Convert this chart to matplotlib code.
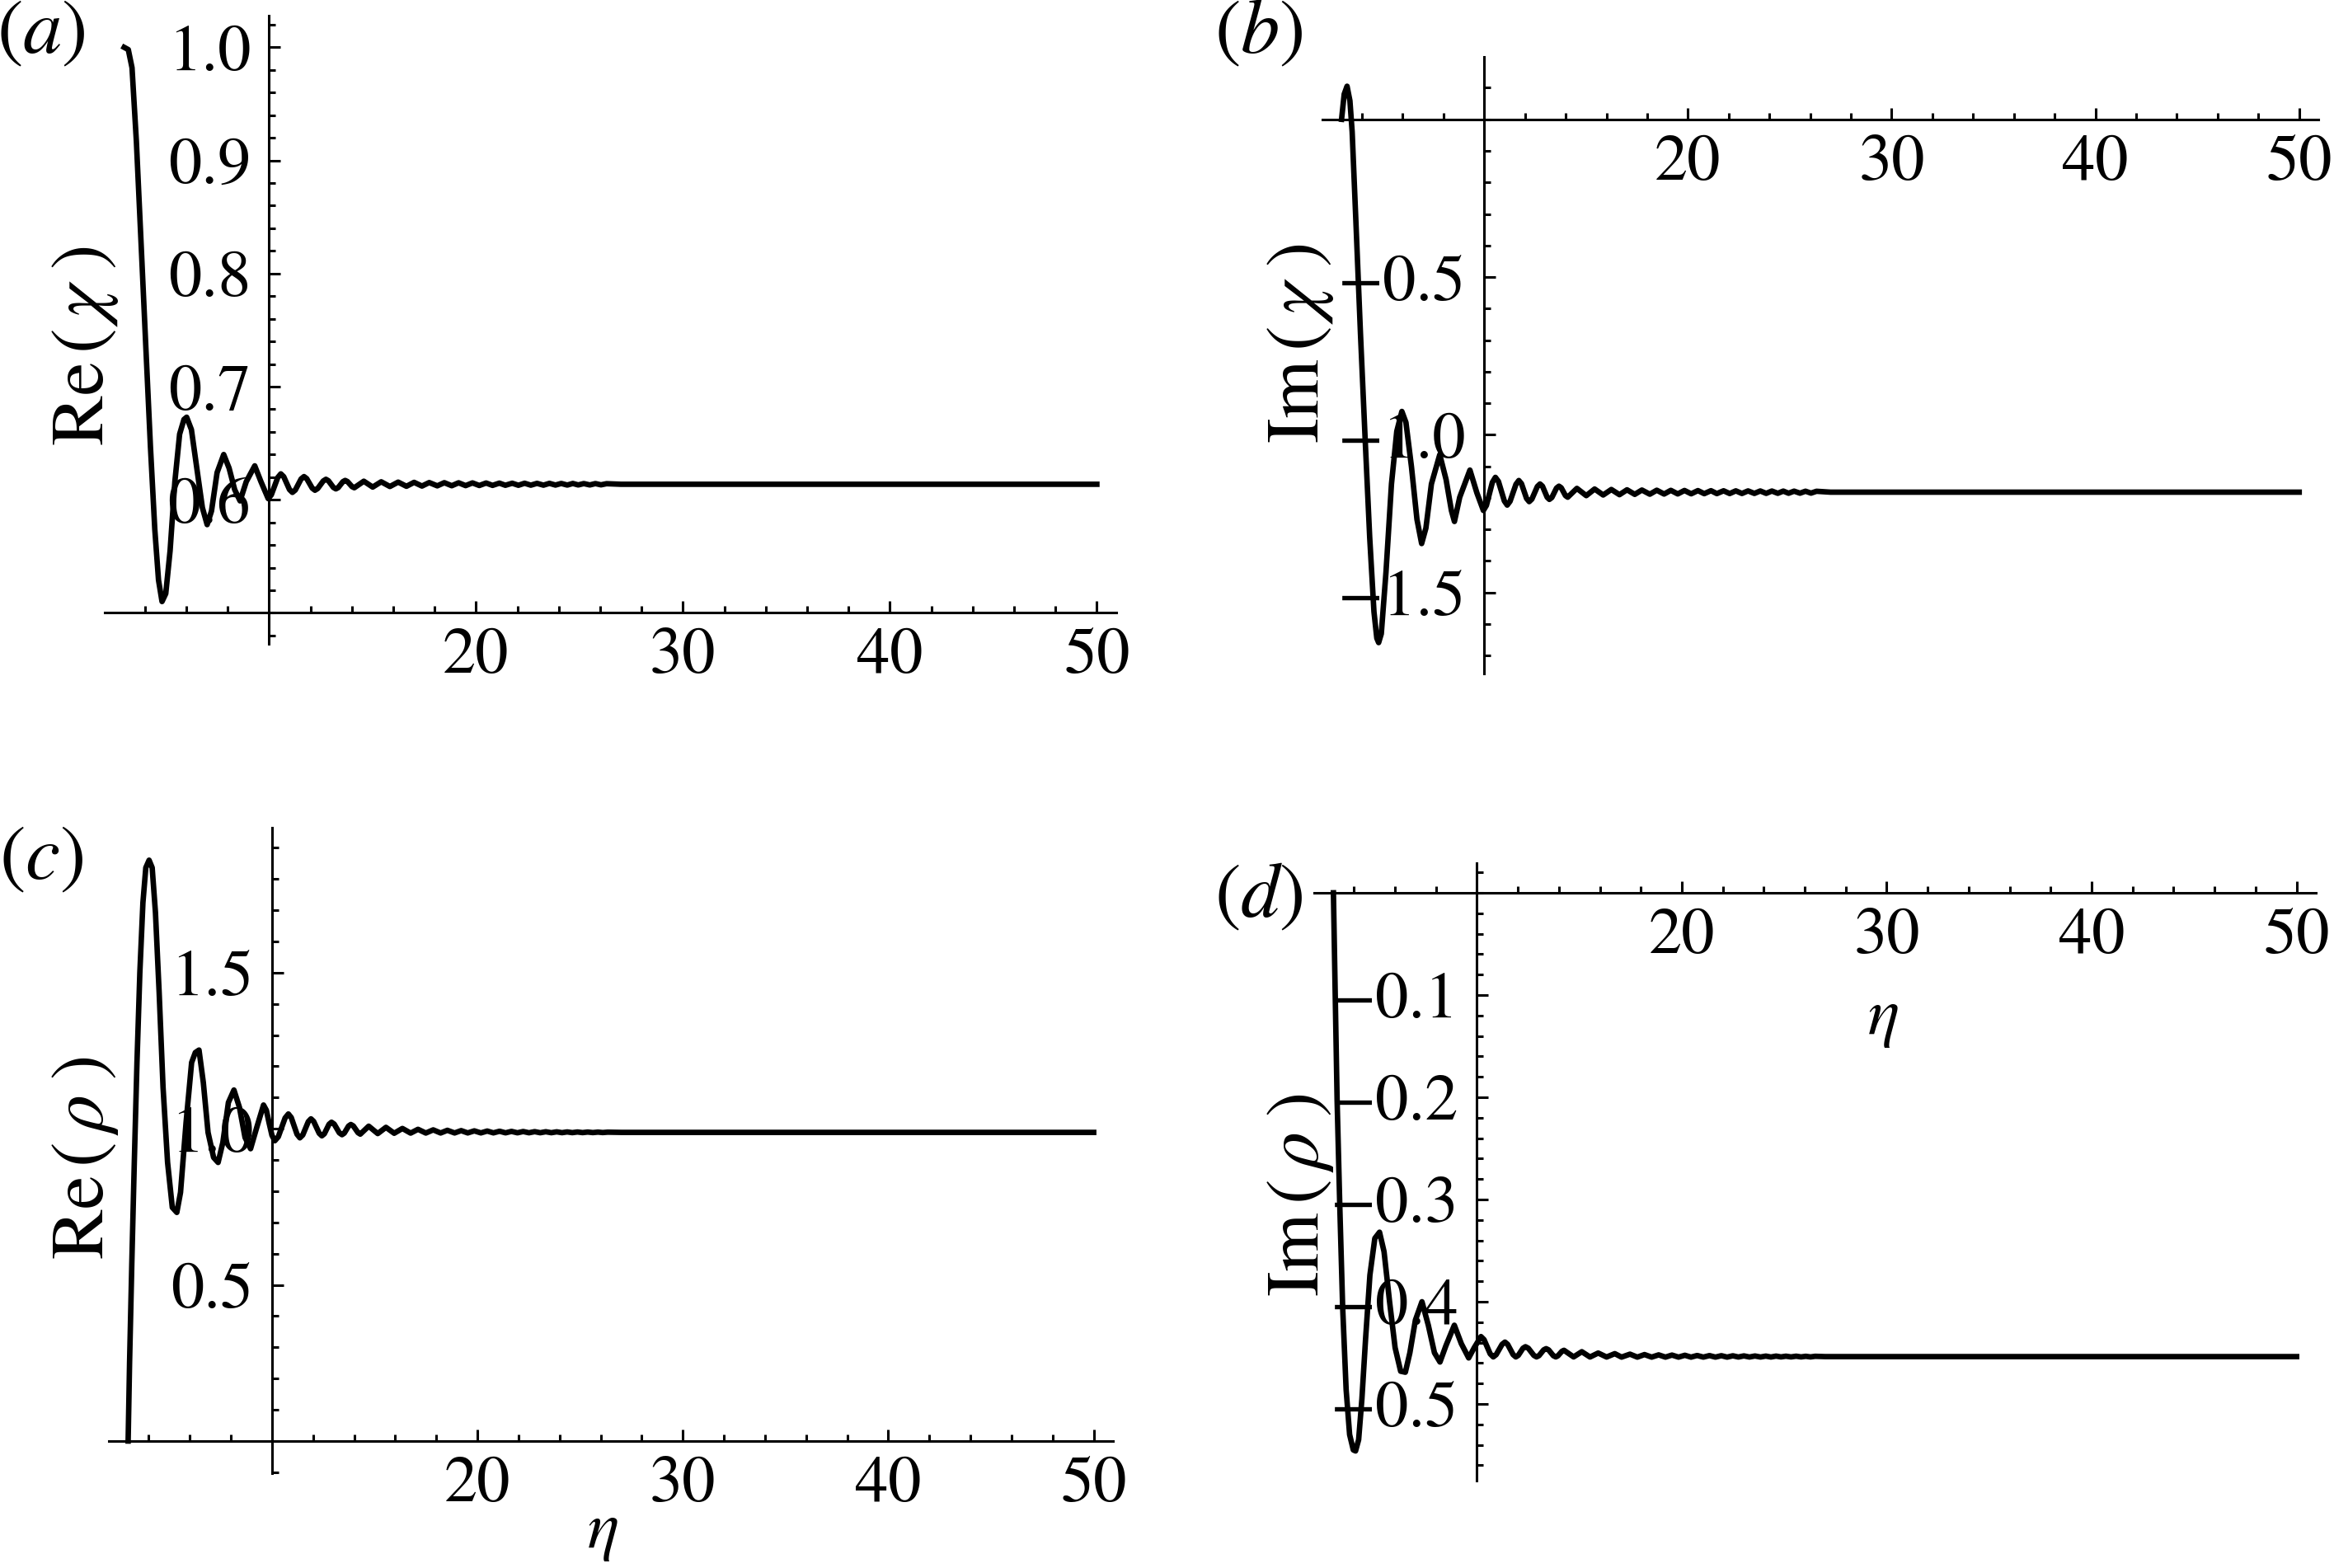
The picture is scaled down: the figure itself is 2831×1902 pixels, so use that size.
import numpy as np
import matplotlib.pyplot as plt
from matplotlib.ticker import FixedLocator, FuncFormatter

plt.rcParams['font.family'] = 'STIXGeneral'
plt.rcParams['mathtext.fontset'] = 'stix'

# ---- data (eta, value) ----
eta_a = [3.0, 3.2, 3.38, 3.59, 3.81, 4.04, 4.27, 4.48, 4.66, 4.83, 5.01, 5.22, 5.45, 5.68, 5.89, 6.02,
         6.25, 6.51, 6.78, 7.01, 7.22, 7.49, 7.81, 8.07, 8.34, 8.6, 8.9, 9.31, 9.61, 9.96,
         10.11, 10.42, 10.57, 10.71, 10.99, 11.13, 11.27, 11.55, 11.69, 11.82, 12.09, 12.22, 12.35,
         12.62, 12.75, 12.87, 13.11, 13.23, 13.34, 13.57, 13.68, 13.79, 14.01, 14.12, 14.58, 15.01,
         15.42, 15.84, 16.24, 16.64, 17.01, 17.39, 17.74, 18.13, 18.47, 18.83, 19.16, 19.5, 19.83,
         20.16, 20.49, 20.8, 21.13, 21.42, 21.75, 22.05, 22.35, 22.65, 22.95, 23.26, 23.55, 23.84,
         24.12, 24.41, 24.68, 24.94, 25.21, 25.5, 25.77, 26.04, 26.31, 27.0, 50.0]
re_chi = [1.0, 0.998, 0.982, 0.917, 0.83, 0.738, 0.647, 0.574, 0.529, 0.51, 0.517, 0.555, 0.616, 0.658,
          0.671, 0.673, 0.662, 0.628, 0.593, 0.578, 0.59, 0.624, 0.64, 0.628, 0.609, 0.599, 0.616,
          0.63, 0.616, 0.601,
          0.6043, 0.6196, 0.6229, 0.6204, 0.609, 0.6065, 0.6086, 0.6184, 0.6205, 0.6187, 0.6102,
          0.6084, 0.6099, 0.6166, 0.6181, 0.6168, 0.6109, 0.6096, 0.6107, 0.616, 0.6171, 0.6161,
          0.6116, 0.6106, 0.6164, 0.6112, 0.6159, 0.6117, 0.6156, 0.6119, 0.6154, 0.6121, 0.6152,
          0.6123, 0.6151, 0.6124, 0.615, 0.6125, 0.6149, 0.6126, 0.6148, 0.6127, 0.6147, 0.6128,
          0.6146, 0.6128, 0.6146, 0.6129, 0.6145, 0.6129, 0.6145, 0.613, 0.6144, 0.613, 0.6144,
          0.6131, 0.6143, 0.6131, 0.6143, 0.6132, 0.6142, 0.6137, 0.6137]

eta_b = [3.0, 3.13, 3.27, 3.41, 3.52, 3.7, 3.93, 4.16, 4.38, 4.59, 4.73, 4.82, 4.95, 5.18, 5.45, 5.71,
         5.96, 6.16, 6.43, 6.7, 6.93, 7.14, 7.41, 7.82, 8.13, 8.39, 8.54, 8.8, 9.3, 9.64, 9.96,
         10.11, 10.4, 10.55, 10.7, 10.99, 11.13, 11.27, 11.56, 11.7, 11.83, 12.08, 12.21, 12.34,
         12.61, 12.74, 12.86, 13.09, 13.2, 13.32, 13.55, 13.67, 13.78, 13.99, 14.1, 14.55, 15.01,
         15.42, 15.84, 16.24, 16.64, 17.01, 17.39, 17.74, 18.13, 18.47, 18.83, 19.16, 19.5, 19.83,
         20.16, 20.49, 20.8, 21.13, 21.42, 21.75, 22.05, 22.35, 22.65, 22.95, 23.26, 23.55, 23.84,
         24.12, 24.41, 24.68, 24.94, 25.21, 25.5, 25.77, 26.04, 26.31, 27.0, 50.0]
im_chi = [0.0, 0.08, 0.105, 0.059, -0.039, -0.318, -0.682, -1.017, -1.324, -1.561, -1.645, -1.659,
          -1.631, -1.436, -1.156, -0.989, -0.926, -0.961, -1.101, -1.268, -1.345, -1.296, -1.156,
          -1.063, -1.142, -1.24, -1.275, -1.198, -1.112, -1.184, -1.24,
          -1.224, -1.151, -1.135, -1.148, -1.21, -1.223, -1.211, -1.157, -1.145, -1.155, -1.202,
          -1.212, -1.204, -1.164, -1.156, -1.163, -1.198, -1.205, -1.199, -1.169, -1.163, -1.168,
          -1.193, -1.198, -1.17, -1.193, -1.172, -1.191, -1.1735, -1.19, -1.1745, -1.189, -1.1752,
          -1.1885, -1.1758, -1.188, -1.1762, -1.1876, -1.1766, -1.1872, -1.177, -1.1868, -1.1773,
          -1.1866, -1.1776, -1.1864, -1.1778, -1.1862, -1.178, -1.186, -1.1782, -1.1858, -1.1784,
          -1.1856, -1.1786, -1.1854, -1.1788, -1.1852, -1.179, -1.185, -1.1792, -1.182, -1.182]

eta_c = [3.0, 3.07, 3.18, 3.3, 3.43, 3.57, 3.72, 3.86, 4.02, 4.17, 4.33, 4.51, 4.7, 4.92, 5.15, 5.37,
         5.55, 5.82, 6.09, 6.27, 6.45, 6.66, 6.89, 7.16, 7.38, 7.61, 7.88, 8.15, 8.42, 8.69, 8.96,
         9.26, 9.59, 9.73, 9.86, 10.0, 10.14,
         10.31, 10.64, 10.8, 10.94, 11.22, 11.36, 11.5, 11.77, 11.9, 12.03, 12.3, 12.43, 12.55,
         12.78, 12.9, 13.03, 13.28, 13.41, 13.52, 13.73, 13.84, 13.96, 14.19, 14.3, 14.71, 15.15,
         15.55, 15.95, 16.35, 16.75, 17.11, 17.49, 17.85, 18.21, 18.54, 18.89, 19.21, 19.53, 19.85,
         20.17, 20.48, 20.78, 21.08, 21.37, 21.66, 21.95, 22.23, 22.51, 22.79, 23.06, 23.33, 23.6,
         23.86, 24.12, 24.37, 24.62, 24.87, 25.12, 25.37, 25.62, 25.87, 26.1, 26.34, 27.0, 50.0]
re_rho = [0.0, 0.252, 0.572, 0.892, 1.212, 1.5, 1.724, 1.836, 1.86, 1.836, 1.692, 1.436, 1.132, 0.892,
          0.748, 0.732, 0.796, 1.02, 1.212, 1.244, 1.252, 1.148, 0.988, 0.908, 0.892, 0.956, 1.084,
          1.124, 1.068, 0.972, 0.936, 1.004, 1.076, 1.059, 1.019, 0.979, 0.9615,
          0.9744, 1.0344, 1.0473, 1.0358, 0.9824, 0.9709, 0.98, 1.0227, 1.0318, 1.0236, 0.9855,
          0.9773, 0.9838, 1.0144, 1.0209, 1.0149, 0.9869, 0.9809, 0.9858, 1.0087, 1.0136, 1.009,
          0.9873, 0.9827, 1.0082, 0.9845, 1.0045, 0.9855, 1.0009, 0.986, 0.9982, 0.9862, 0.9964,
          0.9864, 0.995, 0.9865, 0.994, 0.9866, 0.9932, 0.9867, 0.9926, 0.9868, 0.992, 0.9869,
          0.9915, 0.987, 0.9911, 0.9871, 0.9907, 0.9872, 0.9904, 0.9873, 0.9901, 0.9874, 0.9898,
          0.9875, 0.9896, 0.9876, 0.9894, 0.9877, 0.9892, 0.9878, 0.989, 0.9883, 0.9883]

eta_d = [3.0, 3.08, 3.18, 3.31, 3.45, 3.62, 3.79, 3.97, 4.08, 4.23, 4.39, 4.57, 4.78, 5.02, 5.25, 5.47,
         5.74, 6.01, 6.28, 6.51, 6.73, 7.0, 7.32, 7.63, 7.93, 8.2, 8.49, 8.9, 9.24, 9.6, 9.87,
         10.2, 10.35, 10.65, 10.8, 10.94, 11.23, 11.37, 11.5, 11.77, 11.9, 12.02, 12.25, 12.37,
         12.51, 12.78, 12.91, 13.03, 13.26, 13.38, 13.5, 13.73, 13.85, 13.95, 14.15, 14.25, 14.72,
         15.12, 15.52, 15.92, 16.33, 16.73, 17.06, 17.47, 17.83, 18.18, 18.53, 18.87, 19.2, 19.52,
         19.84, 20.15, 20.45, 20.75, 21.05, 21.35, 21.64, 21.93, 22.21, 22.49, 22.76, 23.03, 23.3,
         23.57, 23.84, 24.1, 24.35, 24.6, 24.84, 25.08, 25.33, 25.58, 25.82, 26.05, 26.28, 26.51,
         27.0, 50.0]
im_rho = [0.0, -0.091, -0.203, -0.306, -0.405, -0.486, -0.53, -0.545, -0.546, -0.535, -0.495, -0.436,
          -0.374, -0.338, -0.332, -0.351, -0.4, -0.445, -0.468, -0.469, -0.45, -0.418, -0.4, -0.423,
          -0.45, -0.459, -0.443, -0.423, -0.441, -0.455, -0.445,
          -0.4341, -0.4371, -0.451, -0.454, -0.4518, -0.4417, -0.4395, -0.4417, -0.4518, -0.454,
          -0.4525, -0.4455, -0.444, -0.4455, -0.4525, -0.454, -0.4528, -0.4471, -0.4459, -0.4471,
          -0.4528, -0.454, -0.453, -0.4485, -0.4475, -0.454, -0.4489, -0.4541, -0.4502, -0.4541,
          -0.4508, -0.4542, -0.4513, -0.4542, -0.4517, -0.4542, -0.452, -0.4542, -0.4522, -0.4542,
          -0.4524, -0.4542, -0.4526, -0.4542, -0.4527, -0.4542, -0.4528, -0.4542, -0.4529, -0.4541,
          -0.453, -0.4541, -0.4531, -0.4541, -0.4532, -0.4541, -0.4532, -0.454, -0.4533, -0.454,
          -0.4533, -0.454, -0.4534, -0.454, -0.4534, -0.4537, -0.4537]

W, H = 2831, 1902
fig = plt.figure(figsize=(W / 100, H / 100), dpi=100)


def box(l, r, t, b):
    # pixel box -> figure fraction
    return [l / W, 1 - b / H, (r - l) / W, (b - t) / H]


def fmt(v, p):
    return ('%.1f' % v).replace('-', '\u2212')


minor_x = [t for t in range(4, 51, 2) if t % 10]

panels = [
    # eta, values, pixel box, ylim, x-axis height, major y, minor y
    (eta_a, re_chi, box(127, 1354, 19, 781), (0.4726, 1.028), 0.5,
     [0.6, 0.7, 0.8, 0.9, 1.0], np.arange(0.48, 1.03, 0.02)),
    (eta_b, im_chi, box(1604, 2812, 69, 817), (-1.757, 0.198), 0.0,
     [-1.5, -1.0, -0.5], np.arange(-1.7, 0.21, 0.1)),
    (eta_c, re_rho, box(132, 1350, 1004, 1787), (-0.103, 1.964), 0.0,
     [0.5, 1.0, 1.5], np.arange(-0.1, 1.96, 0.1)),
    (eta_d, im_rho, box(1594, 2809, 1047, 1796), (-0.575, 0.029), 0.0,
     [-0.5, -0.4, -0.3, -0.2, -0.1], np.arange(-0.56, 0.03, 0.02)),
]

for eta, vals, rect, ylim, y0, yt, ymin_t in panels:
    ax = fig.add_axes(rect)
    ax.plot(eta, vals, color='black', lw=4.8, solid_joinstyle='round', clip_on=False)
    ax.set_xlim(2.06, 50.94)
    ax.set_ylim(*ylim)
    ax.patch.set_visible(False)
    ax.spines['top'].set_visible(False)
    ax.spines['right'].set_visible(False)
    ax.spines['left'].set_position(('data', 10))
    ax.spines['bottom'].set_position(('data', y0))
    for s in ['left', 'bottom']:
        ax.spines[s].set_linewidth(2.2)
    ax.xaxis.set_major_locator(FixedLocator([20, 30, 40, 50]))
    ax.xaxis.set_minor_locator(FixedLocator(minor_x))
    ax.yaxis.set_major_locator(FixedLocator(yt))
    ax.yaxis.set_minor_locator(FixedLocator(ymin_t))
    ax.xaxis.set_major_formatter(FuncFormatter(lambda v, p: '%d' % v))
    ax.yaxis.set_major_formatter(FuncFormatter(fmt))
    ax.tick_params(which='both', direction='in', width=2.2, labelsize=58)
    ax.tick_params(which='major', length=10)
    ax.tick_params(which='minor', length=6)
    ax.tick_params(axis='x', pad=13)
    ax.tick_params(axis='y', pad=16)

# axis titles and panel tags
ylab = dict(rotation=90, ha='center', va='center', fontsize=66)
fig.text(103 / W, 1 - 420 / H, r'$\mathrm{Re}\,(\,\chi\;)$', **ylab)
fig.text(1578 / W, 1 - 417 / H, r'$\mathrm{Im}\,(\,\chi\;)$', **ylab)
fig.text(103 / W, 1 - 1404 / H, r'$\mathrm{Re}\,(\,\rho\;)$', **ylab)
fig.text(1578 / W, 1 - 1449 / H, r'$\mathrm{Im}\,(\,\rho\;)$', **ylab)
tag = dict(ha='center', va='center', fontsize=68)
fig.text(50 / W, 1 - 42 / H, '$(a)$', **tag)
fig.text(1527 / W, 1 - 42 / H, '$(b)$', **tag)
fig.text(50 / W, 1 - 1044 / H, '$(c)$', **tag)
fig.text(1527 / W, 1 - 1089 / H, '$(d)$', **tag)
fig.text(731 / W, 1 - 1860 / H, r'$\eta$', ha='center', va='center', fontsize=58)
fig.text(2284 / W, 1 - 1237 / H, r'$\eta$', ha='center', va='center', fontsize=58)

fig.savefig('out.png', dpi=100)
